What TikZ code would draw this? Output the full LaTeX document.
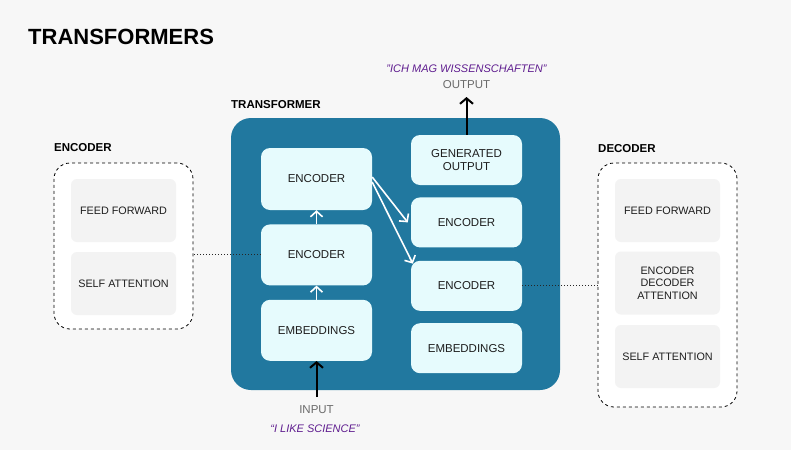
\documentclass[tikz,border=0pt]{standalone}
\usepackage{fontspec}
\setmainfont{Liberation Sans}
\usepackage{xcolor}
\usetikzlibrary{arrows.meta,positioning}
\definecolor{bgcol}{HTML}{F7F7F7}
\definecolor{tblue}{HTML}{21789F}
\definecolor{cellcol}{HTML}{E6FBFD}
\definecolor{subcol}{HTML}{F3F3F3}
\definecolor{inkcol}{HTML}{1E1E1E}
\definecolor{greycol}{HTML}{6B6B6B}
\definecolor{quotecol}{HTML}{5F1D8F}

\begin{document}
\begin{tikzpicture}[x=1pt, y=-1pt,
  font=\fontsize{11.5}{13.5}\selectfont,
  cell/.style={fill=cellcol, rounded corners=9pt, text=inkcol, align=center, minimum width=111pt, inner sep=0pt},
  tallcell/.style={cell, minimum height=61pt},
  flatcell/.style={cell, minimum height=50pt},
  subcell/.style={fill=subcol, rounded corners=6pt, text=inkcol, align=center, minimum width=105pt, minimum height=63pt, inner sep=0pt, font=\fontsize{10.8}{12.6}\selectfont},
  groupbox/.style={draw=black, fill=white, dashed, line width=0.8pt, rounded corners=16pt, minimum width=139pt, inner sep=0pt},
  heading/.style={anchor=west, inner sep=0pt, text=black, font=\fontsize{11.5}{13.5}\selectfont\bfseries},
  flow/.style={draw=white, line width=1.6pt, -{Straight Barb[length=5.5pt,width=12pt,line width=1.6pt]}},
  io/.style={draw=black, line width=2pt, -{Straight Barb[length=5.5pt,width=13pt,line width=2pt]}},
  link/.style={draw=black!85, dotted, line width=1pt}]
\fill[bgcol] (0,0) rectangle (791,450);
\useasboundingbox (0,0) rectangle (791,450);

\node[heading, font=\fontsize{22}{25}\selectfont\bfseries] (title) at (28,37) {TRANSFORMERS};

\node[fill=tblue, rounded corners=20pt, minimum width=329pt, minimum height=272pt, inner sep=0pt] (tbox) at (395.5,254) {};
\node[heading] (tlabel) at (231,105) {TRANSFORMER};

\node[tallcell, minimum height=62pt] (enc1) at (316.5,179) {ENCODER};
\node[tallcell, below=14pt of enc1] (enc2) {ENCODER};
\node[tallcell, below=14pt of enc2] (emb1) {EMBEDDINGS};

\node[flatcell] (gen) at (466.5,160) {GENERATED\\OUTPUT};
\node[flatcell, below=12pt of gen] (enc3) {ENCODER};
\node[flatcell, below=13pt of enc3] (enc4) {ENCODER};
\node[flatcell, below=12pt of enc4] (emb2) {EMBEDDINGS};

\draw[flow] (emb1.north) -- (enc2.south);
\draw[flow] (enc2.north) -- (enc1.south);
\draw[flow] ([yshift=2pt]enc1.east) -- ([xshift=-3pt]enc3.west);
\draw[flow] ([yshift=-3pt]enc1.east) -- ([shift={(2pt,-3pt)}]enc4.north west);

\coordinate (outtip) at (466.5,97);
\coordinate (intail) at (316.5,397);
\draw[io] (gen.north) -- (outtip);
\draw[io] (intail) -- (emb1.south);

\node[text=greycol] (outlbl) at (466.5,85) {OUTPUT};
\node[text=quotecol, font=\fontsize{11}{13}\selectfont\itshape] (outtext) at (466.5,69) {"ICH MAG WISSENSCHAFTEN"};
\node[text=greycol] (inlbl) at (316.5,410) {INPUT};
\node[text=quotecol, font=\fontsize{11}{13}\selectfont\itshape] (intext) at (315,429) {“I LIKE SCIENCE”};

\node[groupbox, minimum height=166pt] (encbox) at (123.5,246) {};
\node[heading] (enclabel) at (54,148) {ENCODER};
\node[subcell] (ff1) at (123.5,210.5) {FEED FORWARD};
\node[subcell] (sa1) at (123.5,283.5) {SELF ATTENTION};

\node[groupbox, minimum height=244pt] (decbox) at (667.5,285) {};
\node[heading] (declabel) at (598,149) {DECODER};
\node[subcell] (ff2) at (667.5,210.5) {FEED FORWARD};
\node[subcell] (eda) at (667.5,283) {ENCODER\\DECODER\\ATTENTION};
\node[subcell] (sa2) at (667.5,356.5) {SELF ATTENTION};

\draw[link] (enc2.west) -- (enc2.west -| encbox.east);
\draw[link] (enc4.east) -- (enc4.east -| decbox.west);
\end{tikzpicture}
\end{document}
